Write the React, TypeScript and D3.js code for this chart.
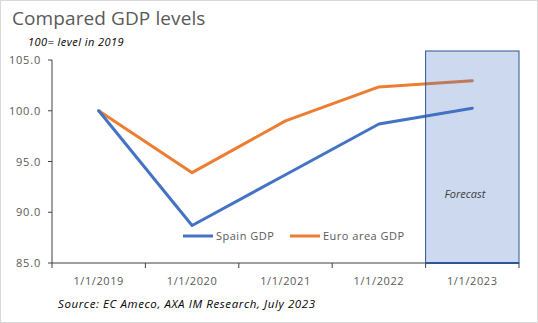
import React from "react";
import * as d3 from "d3";

const categories = ["1/1/2019", "1/1/2020", "1/1/2021", "1/1/2022", "1/1/2023"];
const spainGDP = [100, 88.7, 93.7, 98.7, 100.25];
const euroGDP = [100, 93.9, 99.0, 102.35, 102.95];
const yTicks = [85, 90, 95, 100, 105];
const forecastCategory = "1/1/2023";

const W = 538, H = 323;
const FONT = "Open Sans, sans-serif";

export default function App() {
  const x = d3.scaleBand<string>().domain(categories).range([52, 519]).paddingInner(0).paddingOuter(0);
  const y = d3.scaleLinear().domain([85, 105]).range([263, 60]);
  const cx = (c: string) => (x(c) as number) + x.bandwidth() / 2;
  const line = d3.line<number>().x((_, i) => cx(categories[i])).y((v) => y(v));
  const fx = x(forecastCategory) as number;
  const grey = "#595959";
  return (
    <svg width={W} height={H} style={{ position: "absolute", left: 0, top: 0 }} fontFamily={FONT}>
      <rect x={0.5} y={0.5} width={W - 1} height={H - 1} fill="#fff" stroke="#d9d9d9" />
      <text x={12} y={25} fontSize={19} fill={grey} letterSpacing={0.1}>Compared GDP levels</text>
      <text x={28} y={46} fontSize={11} fontStyle="italic" fill="#000" letterSpacing={0.45}>100= level in 2019</text>
      {yTicks.map((t) => (
        <g key={t}>
          <text x={41} y={y(t) + 4} fontSize={11} fill={grey} textAnchor="end" letterSpacing={0.8}>{t.toFixed(1)}</text>
          <line x1={48} x2={52} y1={y(t)} y2={y(t)} stroke="#404040" />
        </g>
      ))}
      <path d={line(euroGDP) || ""} fill="none" stroke="#ED7D31" strokeWidth={3} strokeLinejoin="round" strokeLinecap="round" />
      <path d={line(spainGDP) || ""} fill="none" stroke="#4472C4" strokeWidth={3} strokeLinejoin="round" strokeLinecap="round" />
      <line x1={52} x2={52} y1={y(105)} y2={y(85)} stroke="#404040" />
      <line x1={52} x2={519} y1={y(85)} y2={y(85)} stroke="#404040" />
      {categories.map((c) => (
        <g key={c}>
          <line x1={x(c) as number} x2={x(c) as number} y1={y(85)} y2={y(85) + 5} stroke="#404040" />
          <text x={cx(c)} y={285} fontSize={11} fill={grey} textAnchor="middle" letterSpacing={0.6}>{c}</text>
        </g>
      ))}
      <line x1={519} x2={519} y1={y(85)} y2={y(85) + 5} stroke="#404040" />
      <rect x={fx} y={51} width={x.bandwidth()} height={y(85) - 51} fill="#4472C4" fillOpacity={0.27} stroke="#2F5597" strokeWidth={1} />
      <line x1={fx} x2={fx + x.bandwidth()} y1={y(85)} y2={y(85)} stroke="#2F5597" strokeWidth={2} />
      <text x={465} y={198} fontSize={11} fontStyle="italic" fill="#404040" textAnchor="middle">Forecast</text>
      <line x1={183} x2={213} y1={236} y2={236} stroke="#4472C4" strokeWidth={3} />
      <text x={216} y={240} fontSize={11} fill={grey} letterSpacing={0.5}>Spain GDP</text>
      <line x1={290} x2={320} y1={236} y2={236} stroke="#ED7D31" strokeWidth={3} />
      <text x={323} y={240} fontSize={11} fill={grey} letterSpacing={0.5}>Euro area GDP</text>
      <text x={58} y={308} fontSize={11.5} fontStyle="italic" fill="#000" letterSpacing={0.6}>Source: EC Ameco, AXA IM Research, July 2023</text>
    </svg>
  );
}
